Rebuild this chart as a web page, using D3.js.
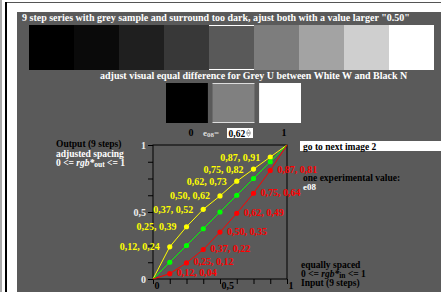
<!DOCTYPE html>
<html>
<head>
<meta charset="utf-8">
<script src="https://cdn.jsdelivr.net/npm/d3@7"></script>
<style>
  body { margin: 0; background: #fff; }
  svg { display: block; }
  text { font-family: "Liberation Serif", "Times New Roman", serif; font-weight: bold; }
</style>
</head>
<body>
<div id="grafico"></div>
<script>
// datos del grafico (9 pasos)
const inputSteps = [0, 0.125, 0.25, 0.375, 0.5, 0.625, 0.75, 0.875, 1];
const inputLabels = ['0', '0,12', '0,25', '0,37', '0,50', '0,62', '0,75', '0,87', '1'];
const outAdjusted = [0, 0.24, 0.39, 0.52, 0.62, 0.73, 0.82, 0.91, 1];   // amarillo
const outLinear = [0, 0.125, 0.25, 0.375, 0.5, 0.625, 0.75, 0.875, 1];  // verde
const outDark = [0, 0.04, 0.12, 0.22, 0.35, 0.49, 0.64, 0.81, 1];       // rojo
const axisTickLabels = { 0: '0', 0.5: '0,5', 1: '1' };
const sampleGreys = [0, 0.5, 1];
const sampleLabels = ['0', '', '1'];
const selectedStep = 4;
const experimentalValue = '0,62';

const width = 441;
const height = 292;
const bg = '#5a5a5a';

const svg = d3.select('#grafico')
    .append('svg')
    .attr('width', width)
    .attr('height', height);

// marco exterior
svg.append('rect').attr('x', 0).attr('y', 0).attr('width', 2).attr('height', height).attr('fill', '#aaa');
svg.append('rect').attr('x', 5).attr('y', 2).attr('width', width - 5).attr('height', 1).attr('fill', '#555');
svg.append('rect').attr('x', 5).attr('y', 2).attr('width', 2).attr('height', height).attr('fill', '#000');
svg.append('rect').attr('x', 17).attr('y', 12).attr('width', width - 17).attr('height', height - 12).attr('fill', bg);

const fmt = d => d.toFixed(2).replace('.', ',');
const grey = v => d3.rgb(v * 255, v * 255, v * 255);

// titulo
svg.append('text').attr('x', 22).attr('y', 21).attr('fill', '#fff').attr('font-size', 10)
    .text('9 step series with grey sample and surround too dark, ajust both with a value larger "0.50"');

// serie de 9 pasos
const xs = d3.scaleBand().domain(d3.range(outDark.length)).range([29, 434]);
svg.selectAll('rect.paso')
    .data(outDark)
    .enter()
    .append('rect')
    .attr('class', 'paso')
    .attr('x', (d, i) => xs(i))
    .attr('y', 25)
    .attr('width', xs.bandwidth())
    .attr('height', 45)
    .attr('fill', d => grey(d));

svg.append('line').attr('x1', xs(selectedStep)).attr('x2', xs(selectedStep) + xs.bandwidth())
    .attr('y1', 25.5).attr('y2', 25.5).attr('stroke', '#fff');
svg.append('line').attr('x1', xs(selectedStep)).attr('x2', xs(selectedStep) + xs.bandwidth())
    .attr('y1', 69.5).attr('y2', 69.5).attr('stroke', '#fff');

svg.append('text').attr('x', 100).attr('y', 79).attr('fill', '#fff').attr('font-size', 10)
    .text('adjust visual equal difference for Grey U between White W and Black N');

// muestras N, U, W
const xm = d3.scaleBand().domain(d3.range(3)).range([166, 301]).paddingInner(0.1);
svg.selectAll('rect.muestra')
    .data(sampleGreys)
    .enter()
    .append('rect')
    .attr('class', 'muestra')
    .attr('x', (d, i) => xm(i))
    .attr('y', 83)
    .attr('width', xm.bandwidth())
    .attr('height', 40)
    .attr('fill', d => grey(d));
svg.append('line').attr('x1', xm(1)).attr('x2', xm(1) + xm.bandwidth())
    .attr('y1', 83.5).attr('y2', 83.5).attr('stroke', '#ddd');
svg.append('line').attr('x1', xm(1)).attr('x2', xm(1) + xm.bandwidth())
    .attr('y1', 122.5).attr('y2', 122.5).attr('stroke', '#ddd');

svg.selectAll('text.mlabel')
    .data(sampleLabels)
    .enter()
    .append('text')
    .attr('class', 'mlabel')
    .attr('x', (d, i) => xm(i) + xm.bandwidth() / 2 + 4)
    .attr('y', 136)
    .attr('text-anchor', 'middle')
    .attr('font-size', 10)
    .attr('fill', '#000')
    .text(d => d);

// e08 = campo de entrada
const eText = svg.append('text').attr('x', 203).attr('y', 136).attr('fill', '#ddd').attr('font-size', 9);
eText.append('tspan').text('e');
eText.append('tspan').attr('font-size', 7).attr('dy', 1).text('08');
eText.append('tspan').attr('dy', -1).text('=');
svg.append('rect').attr('x', 227).attr('y', 128).attr('width', 26).attr('height', 10).attr('fill', '#fff');
svg.append('text').attr('x', 228.5).attr('y', 136.5).attr('font-size', 9.5).attr('fill', '#000').text(experimentalValue);
svg.append('path').attr('d', 'M246.5,132.5 L248.5,129.5 L250.5,132.5 Z M246.5,133.5 L248.5,136.5 L250.5,133.5 Z')
    .attr('fill', 'none').attr('stroke', '#888').attr('stroke-width', 0.7);

// grafico de salida frente a entrada
const x = d3.scaleLinear().domain([0, 1]).range([153, 287]);
const y = d3.scaleLinear().domain([0, 1]).range([279, 145]);

svg.append('rect').attr('x', x(0)).attr('y', y(1)).attr('width', x(1) - x(0)).attr('height', y(0) - y(1))
    .attr('fill', 'none').attr('stroke', '#000');

const ay = svg.append('g')
    .attr('transform', `translate(${x(0)}, 0)`)
    .call(d3.axisLeft(y).tickValues(inputSteps).tickSize(5).tickPadding(2)
        .tickFormat(d => axisTickLabels[d] || ''));
ay.select('.domain').remove();
ay.selectAll('text').attr('fill', '#eee').attr('font-size', 10).attr('font-family', '"Liberation Serif", serif');

const ax = svg.append('g')
    .attr('transform', `translate(0, ${y(0)})`)
    .call(d3.axisBottom(x).tickValues(inputSteps).tickSize(5)
        .tickFormat(d => axisTickLabels[d] || ''));
ax.select('.domain').remove();
ax.selectAll('text')
    .attr('fill', '#000')
    .attr('font-size', 10)
    .attr('text-anchor', 'start')
    .attr('x', 1)
    .attr('y', 9.5)
    .attr('dy', null)
    .attr('font-family', '"Liberation Serif", serif');

const series = [
    { values: outAdjusted, color: '#ffff00', side: 'left' },
    { values: outLinear, color: '#00ff00', side: 'none' },
    { values: outDark, color: '#ff0000', side: 'right' }
];

const line = d3.line().x((d, i) => x(inputSteps[i])).y(d => y(d));

series.forEach(s => {
    svg.append('path')
        .datum(s.values)
        .attr('d', line)
        .attr('fill', 'none')
        .attr('stroke', s.color)
        .attr('stroke-width', 1);

    const inner = s.values.map((v, i) => ({ v, i })).filter(d => d.i > 0 && d.i < s.values.length - 1);

    svg.selectAll(null)
        .data(inner)
        .enter()
        .append('circle')
        .attr('cx', d => x(inputSteps[d.i]))
        .attr('cy', d => y(d.v))
        .attr('r', 2.6)
        .attr('fill', s.color);

    if (s.side !== 'none') {
        svg.selectAll(null)
            .data(inner)
            .enter()
            .append('text')
            .attr('x', d => s.side === 'left' ? x(inputSteps[d.i]) - 10 : x(inputSteps[d.i]) + 7)
            .attr('y', d => y(d.v) + (s.side === 'left' ? 3.5 : 2.5))
            .attr('text-anchor', s.side === 'left' ? 'end' : 'start')
            .attr('font-size', 10)
            .attr('fill', s.color)
            .text(d => inputLabels[d.i] + ', ' + fmt(d.v));
    }
});

// textos laterales
const fs = 9.5;
svg.append('text').attr('x', 56).attr('y', 147).attr('fill', '#000').attr('font-size', fs).text('Output (9 steps)');
svg.append('text').attr('x', 56).attr('y', 156.5).attr('fill', '#fff').attr('font-size', fs).text('adjusted spacing');
const rgbOut = svg.append('text').attr('x', 56).attr('y', 166).attr('fill', '#fff').attr('font-size', fs);
rgbOut.append('tspan').text('0 <= ');
rgbOut.append('tspan').attr('font-style', 'italic').text('rgb*');
rgbOut.append('tspan').attr('font-size', 7.5).attr('dy', 1).text('out');
rgbOut.append('tspan').attr('dy', -1).text(' <= 1');

svg.append('rect').attr('x', 300).attr('y', 141).attr('width', width - 300).attr('height', 10).attr('fill', '#fff');
svg.append('text').attr('x', 303).attr('y', 149.5).attr('fill', '#000').attr('font-size', fs).text('go to next image 2');
svg.append('text').attr('x', 303).attr('y', 181).attr('fill', '#000').attr('font-size', fs).text('one experimental value:');
svg.append('text').attr('x', 303).attr('y', 190).attr('fill', '#fff').attr('font-size', 9).text('e08');

svg.append('text').attr('x', 301).attr('y', 268).attr('fill', '#000').attr('font-size', fs).text('equally spaced');
const rgbIn = svg.append('text').attr('x', 301).attr('y', 277).attr('fill', '#000').attr('font-size', fs);
rgbIn.append('tspan').text('0 <= ');
rgbIn.append('tspan').attr('font-style', 'italic').text('rgb*');
rgbIn.append('tspan').attr('font-size', 7.5).attr('dy', 1).text('in');
rgbIn.append('tspan').attr('dy', -1).text(' <= 1');
svg.append('text').attr('x', 301).attr('y', 286).attr('fill', '#000').attr('font-size', fs).text('Input (9 steps)');
</script>
</body>
</html>
